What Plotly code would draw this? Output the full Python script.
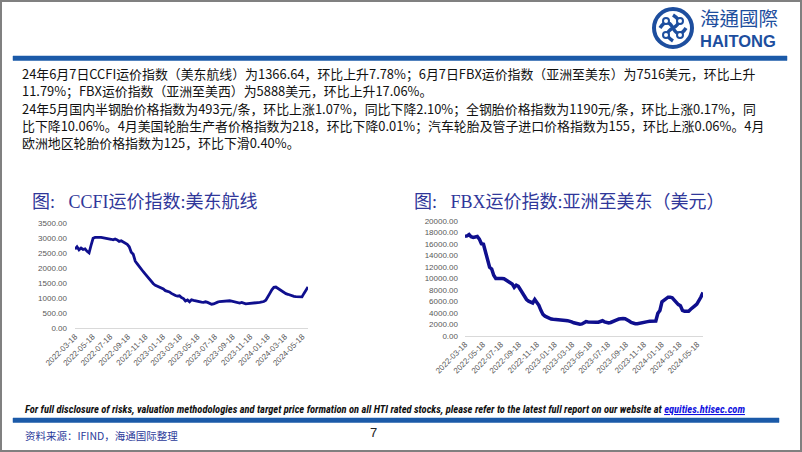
import plotly.graph_objects as go
import pandas as pd

W, H = 802, 452

# ---------------- data ----------------
week_start = "2022-03-18"
n_weeks = 117  # weekly, 2022-03-18 .. 2024-06-07

ccfi = [2620, 2700, 2600, 2660, 2610, 2630, 2550, 2500, 2750, 2980,
        3010, 3020, 3010, 3010, 3000, 2990, 2985, 2980, 2950, 2930,
        2960, 2930, 2880, 2900, 2860, 2830, 2780, 2700, 2520, 2450,
        2220, 2130, 2030, 1950, 1870, 1790, 1700, 1610, 1540, 1470,
        1420, 1390, 1370, 1350, 1300, 1240, 1220, 1200, 1150, 1110,
        1080, 1060, 1070, 1010, 980, 900, 930, 870, 940, 920,
        900, 890, 880, 860, 850, 870, 850, 810, 790, 800,
        840, 860, 880, 890, 900, 910, 920, 905, 890, 880,
        860, 845, 830, 850, 820, 800, 810, 820, 830, 850,
        860, 845, 850, 855, 880, 920, 1020, 1150, 1270, 1350,
        1360, 1310, 1260, 1210, 1170, 1140, 1120, 1090, 1070, 1050,
        1040, 1030, 1030, 1035, 1150, 1268, 1366.64]

fbx = [17300, 17350, 17600, 17200, 17100, 17150, 17250, 16800, 16000, 15900,
       14500, 12700, 11900, 11600, 10500, 9950, 10000, 10000, 9950, 9900,
       9700, 9400, 9200, 9000, 8400, 8800, 8600, 8000, 7300, 6700,
       6300, 6000, 5900, 5700, 6300, 5700, 5300, 4400, 3700, 3400,
       3200, 3000, 2900, 2850, 2800, 2750, 2650, 2700, 2600, 2650,
       2620, 2550, 2400, 2250, 2150, 2050, 2000, 2050, 2200, 2450,
       2400, 2350, 2300, 2300, 2350, 2350, 2450, 2600, 2400, 2250,
       2200, 2300, 2400, 2550, 2750, 2900, 3000, 3000, 2950, 2800,
       2550, 2300, 2150, 2100, 2100, 2200, 2300, 2350, 2400, 2450,
       2500, 2500, 2500, 2550, 3900, 4400, 5900, 6200, 6400, 6700,
       6700, 6600, 6200, 5700, 5400, 5200, 4400, 4250, 4300, 4250,
       4600, 5000, 5200, 5500, 6300, 6727, 7516]

x_ticks = ["2022-03-18", "2022-05-18", "2022-07-18", "2022-09-18", "2022-11-18",
           "2023-01-18", "2023-03-18", "2023-05-18", "2023-07-18", "2023-09-18",
           "2023-11-18", "2024-01-18", "2024-03-18", "2024-05-18"]
ccfi_yticks = [0, 500, 1000, 1500, 2000, 2500, 3000, 3500]
fbx_yticks = [0, 2000, 4000, 6000, 8000, 10000, 12000, 14000, 16000, 18000, 20000]

title_left = "图:   CCFI运价指数:美东航线"
title_right = "图:   FBX运价指数:亚洲至美东（美元）"
para1 = [
    "24年6月7日CCFI运价指数（美东航线）为1366.64，环比上升7.78%；6月7日FBX运价指数（亚洲至美东）为7516美元，环比上升",
    "11.79%；FBX运价指数（亚洲至美西）为5888美元，环比上升17.06%。",
]
para2 = [
    "24年5月国内半钢胎价格指数为493元/条，环比上涨1.07%，同比下降2.10%；全钢胎价格指数为1190元/条，环比上涨0.17%，同",
    "比下降10.06%。4月美国轮胎生产者价格指数为218，环比下降0.01%；汽车轮胎及管子进口价格指数为155，环比上涨0.06%。4月",
    "欧洲地区轮胎价格指数为125，环比下滑0.40%。",
]
disclaimer = "For full disclosure of risks, valuation methodologies and target price formation on all HTI rated stocks, please refer to the latest full report on our website at "
link_text = "equities.htisec.com"
source_text = "资料来源：IFIND，海通国际整理"
page_no = "7"

# ---------------- helpers ----------------
def X(p):
    return p / W

def Y(p):
    return 1 - p / H

dates = pd.date_range(week_start, periods=n_weeks, freq="7D")
LINE = "#0F0F8E"
TICK = "#595959"
TITLE = "#30379A"
BLUE = "#1B5AA8"
LOGO = "#1D4E9E"

fig = go.Figure()
fig.add_trace(go.Scatter(x=dates, y=ccfi, mode="lines",
                         line=dict(color=LINE, width=2.8), xaxis="x", yaxis="y",
                         hoverinfo="skip"))
fig.add_trace(go.Scatter(x=dates, y=fbx, mode="lines",
                         line=dict(color=LINE, width=3.5), xaxis="x2", yaxis="y2",
                         hoverinfo="skip"))

tickfont = dict(family="Liberation Sans, Arial, sans-serif", size=8, color=TICK)

def xax(domain, anchor):
    return dict(domain=domain, anchor=anchor, type="date",
                range=[dates[0], dates[-1]], automargin=False,
                tickmode="array", tickvals=x_ticks, ticktext=x_ticks,
                tickangle=-45, tickfont=tickfont, ticks="",
                showgrid=False, zeroline=False, showline=True,
                linecolor="#D9D9D9", linewidth=1)

def yax(domain, anchor, rng, vals, standoff):
    return dict(domain=domain, anchor=anchor, range=rng, automargin=False,
                tickmode="array", tickvals=vals,
                ticktext=["%.2f" % v for v in vals],
                tickfont=tickfont, ticks="", showgrid=False, zeroline=False,
                showline=False, ticklabelstandoff=standoff)

fig.update_layout(
    template="none",
    width=W, height=H, margin=dict(l=0, r=0, t=0, b=0, autoexpand=False),
    paper_bgcolor="white", plot_bgcolor="white", showlegend=False,
    xaxis=xax([X(75), X(308)], "y"),
    yaxis=yax([Y(328), Y(222.7)], "x", [0, 3500], ccfi_yticks, 7),
    xaxis2=xax([X(465), X(703)], "y2"),
    yaxis2=yax([Y(335.7), Y(220.7)], "x2", [0, 20000], fbx_yticks, 6),
)

ann = []
# chart titles
tfont = dict(family="Liberation Serif, Noto Sans CJK SC, serif", size=18, color=TITLE)
ann.append(dict(x=X(30), y=Y(202), xref="paper", yref="paper", text=title_left,
                showarrow=False, xanchor="left", yanchor="middle", font=tfont))
ann.append(dict(x=X(412), y=Y(202), xref="paper", yref="paper", text=title_right,
                showarrow=False, xanchor="left", yanchor="middle", font=tfont))
# body text paragraphs
bfont = dict(family="Noto Sans CJK SC, sans-serif", size=12.9, color="#111111")
ann.append(dict(x=X(20), y=Y(81.5), xref="paper", yref="paper", text="<br>".join(para1),
                showarrow=False, xanchor="left", yanchor="middle", align="left", font=bfont))
ann.append(dict(x=X(20), y=Y(125), xref="paper", yref="paper", text="<br>".join(para2),
                showarrow=False, xanchor="left", yanchor="middle", align="left", font=bfont))
# disclaimer
ann.append(dict(x=X(23), y=Y(409.5), xref="paper", yref="paper",
                text="<b><i>" + disclaimer + "<span style='color:#1010E0;text-decoration:underline'>" + link_text + "</span></i></b>",
                showarrow=False, xanchor="left", yanchor="middle",
                font=dict(family="Liberation Sans Narrow, Roboto Condensed, sans-serif", size=10.5, color="#111111")))
# source
ann.append(dict(x=X(23), y=Y(435), xref="paper", yref="paper", text=source_text,
                showarrow=False, xanchor="left", yanchor="middle",
                font=dict(family="Noto Sans CJK SC, sans-serif", size=10.5, color="#2B3A9A")))
ann.append(dict(x=X(373), y=Y(432), xref="paper", yref="paper", text=page_no,
                showarrow=False, xanchor="center", yanchor="middle",
                font=dict(family="Liberation Sans, sans-serif", size=13, color="#222222")))
# logo text
ann.append(dict(x=X(698), y=Y(17), xref="paper", yref="paper", text="海通國際",
                showarrow=False, xanchor="left", yanchor="middle",
                font=dict(family="Noto Sans CJK TC, sans-serif", size=19.5, color=LOGO)))
ann.append(dict(x=X(698), y=Y(41), xref="paper", yref="paper", text="<b>HAITONG</b>",
                showarrow=False, xanchor="left", yanchor="middle",
                font=dict(family="Liberation Sans, Arial, sans-serif", size=16.5, color=LOGO)))

shapes = []
# slide border
shapes.append(dict(type="rect", xref="paper", yref="paper", x0=X(1), x1=X(801), y0=Y(1), y1=Y(451),
                   line=dict(color="#808080", width=2), fillcolor="rgba(0,0,0,0)"))
# top and bottom blue bars
shapes.append(dict(type="rect", xref="paper", yref="paper", x0=X(13), x1=X(787), y0=Y(60.5), y1=Y(56),
                   line=dict(color=BLUE, width=0.5), fillcolor=BLUE))
shapes.append(dict(type="rect", xref="paper", yref="paper", x0=X(13), x1=X(779), y0=Y(422.5), y1=Y(418),
                   line=dict(color=BLUE, width=0.5), fillcolor=BLUE))
# logo emblem
cx, cy, r = 673, 28, 19
shapes.append(dict(type="circle", xref="paper", yref="paper",
                   x0=X(cx - r), x1=X(cx + r), y0=Y(cy + r), y1=Y(cy - r),
                   line=dict(color=LOGO, width=4), fillcolor="white"))
def P(x, y):
    return "%.5f,%.5f" % (X(x), Y(y))
swirl = ("M " + P(cx - 13, cy) + " Q " + P(cx - 6, cy - 11) + " " + P(cx, cy) +
         " Q " + P(cx + 6, cy + 11) + " " + P(cx + 13, cy) +
         " M " + P(cx, cy - 13) + " Q " + P(cx + 11, cy - 6) + " " + P(cx, cy) +
         " Q " + P(cx - 11, cy + 6) + " " + P(cx, cy + 13))
shapes.append(dict(type="path", xref="paper", yref="paper", path=swirl,
                   line=dict(color=LOGO, width=3.5)))
for dx, dy in [(-7, -7), (7, -7), (-7, 7), (7, 7)]:
    shapes.append(dict(type="circle", xref="paper", yref="paper",
                       x0=X(cx + dx - 3), x1=X(cx + dx + 3), y0=Y(cy + dy + 3), y1=Y(cy + dy - 3),
                       line=dict(color=LOGO, width=2), fillcolor="white"))

fig.update_layout(annotations=ann, shapes=shapes)
fig.write_html("out.html")
